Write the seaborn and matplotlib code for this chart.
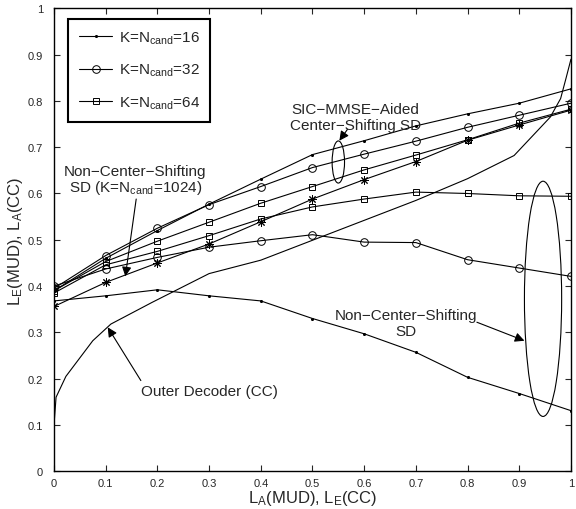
import numpy as np
import pandas as pd
import matplotlib
matplotlib.use("Agg")
import matplotlib.pyplot as plt
from matplotlib.patches import Ellipse
import seaborn as sns

# EXIT chart data
x = [0.0, 0.1, 0.2, 0.3, 0.4, 0.5, 0.6, 0.7, 0.8, 0.9, 1.0]

# SIC-MMSE-aided center-shifting SD
cs16 = [0.390, 0.460, 0.520, 0.577, 0.631, 0.684, 0.714, 0.746, 0.772, 0.795, 0.826]
cs32 = [0.395, 0.466, 0.525, 0.576, 0.615, 0.656, 0.685, 0.713, 0.743, 0.769, 0.795]
cs64 = [0.390, 0.453, 0.497, 0.538, 0.579, 0.615, 0.651, 0.683, 0.716, 0.752, 0.782]

# non-center-shifting SD
ncs1024 = [0.356, 0.408, 0.450, 0.491, 0.539, 0.588, 0.630, 0.669, 0.715, 0.748, 0.780]
ncs64 = [0.385, 0.446, 0.475, 0.509, 0.545, 0.571, 0.588, 0.603, 0.600, 0.595, 0.594]
ncs32 = [0.400, 0.437, 0.462, 0.484, 0.498, 0.511, 0.495, 0.494, 0.457, 0.439, 0.421]
ncs16 = [0.368, 0.379, 0.392, 0.379, 0.368, 0.330, 0.297, 0.257, 0.203, 0.168, 0.131]

# outer decoder (CC), inverted axes
outer_x = [0.0, 0.004, 0.023, 0.075, 0.11, 0.19, 0.3, 0.4, 0.5, 0.6, 0.7, 0.8, 0.89, 0.96, 0.98, 0.99, 1.0]
outer_y = [0.100, 0.160, 0.205, 0.282, 0.318, 0.365, 0.427, 0.456, 0.499, 0.542, 0.585, 0.632, 0.682, 0.765, 0.805, 0.847, 0.890]

legend_labels = [r"K=N$_\mathregular{cand}$=16",
                 r"K=N$_\mathregular{cand}$=32",
                 r"K=N$_\mathregular{cand}$=64"]

sns.set_style("ticks")
plt.rcParams["font.family"] = ["Liberation Sans", "DejaVu Sans"]
plt.rcParams["mathtext.fontset"] = "custom"
plt.rcParams["mathtext.rm"] = "Liberation Sans"
plt.rcParams["mathtext.it"] = "Liberation Sans"

fig = plt.figure(figsize=(5.76, 5.1), dpi=100)
ax = fig.add_axes([0.09375, 0.0739, 0.8975, 0.9079])

lw = 0.8
mk = dict(markeredgecolor="k", markeredgewidth=0.7)
dot = dict(marker=".", markersize=3, markerfacecolor="k", **mk)
circ = dict(marker="o", markersize=5.5, markerfacecolor="none", **mk)
sq = dict(marker="s", markersize=5, markerfacecolor="none", **mk)
star = dict(marker=(8, 2, 0), markersize=6, markerfacecolor="k", **mk)

sns.lineplot(x=x, y=cs16, color="k", lw=lw, ax=ax, **dot)
sns.lineplot(x=x, y=cs32, color="k", lw=lw, ax=ax, **circ)
sns.lineplot(x=x, y=cs64, color="k", lw=lw, ax=ax, **sq)
sns.lineplot(x=x, y=ncs1024, color="k", lw=lw, ax=ax, **star)
sns.lineplot(x=x, y=ncs64, color="k", lw=lw, ax=ax, **sq)
sns.lineplot(x=x, y=ncs32, color="k", lw=lw, ax=ax, **circ)
sns.lineplot(x=x, y=ncs16, color="k", lw=lw, ax=ax, **dot)
sns.lineplot(x=outer_x, y=outer_y, color="k", lw=lw, ax=ax)

lines = ax.get_lines()
leg = ax.legend(lines[:3], legend_labels, loc="upper left", bbox_to_anchor=(0.0274, 0.977),
                borderaxespad=0, fontsize=11, frameon=True, fancybox=False, edgecolor="k",
                framealpha=1, handlelength=2.2, labelspacing=1.05, borderpad=0.7,
                handletextpad=0.4)
leg.get_frame().set_linewidth(1.5)

# ellipses
ax.add_patch(Ellipse((0.55, 0.668), 0.024, 0.091, fill=False, color="k", lw=lw))
ax.add_patch(Ellipse((0.946, 0.3725), 0.072, 0.508, fill=False, color="k", lw=lw))

arrow = dict(arrowstyle="-|>", color="k", lw=lw, mutation_scale=14, shrinkA=0, shrinkB=0)
ax.annotate("", xy=(0.552, 0.714), xytext=(0.568, 0.739), arrowprops=arrow)
ax.annotate("", xy=(0.138, 0.421), xytext=(0.159, 0.588), arrowprops=arrow)
ax.annotate("", xy=(0.104, 0.311), xytext=(0.168, 0.196), arrowprops=arrow)
ax.annotate("", xy=(0.910, 0.282), xytext=(0.818, 0.322), arrowprops=arrow)

ax.text(0.583, 0.766, "SIC\u2212MMSE\u2212Aided\nCenter\u2212Shifting SD", ha="center", va="center", fontsize=11)
ax.text(0.157, 0.629, "Non\u2212Center\u2212Shifting\nSD (K=N$_\\mathregular{cand}$=1024)",
        ha="center", va="center", fontsize=11, linespacing=1.0)
ax.text(0.68, 0.32, "Non\u2212Center\u2212Shifting\nSD", ha="center", va="center", fontsize=11)
ax.text(0.301, 0.174, "Outer Decoder (CC)", ha="center", va="center", fontsize=11)

ticks = np.round(np.arange(0, 1.01, 0.1), 1)
ticklabels = ["%g" % t for t in ticks]
ax.set_xlim(0, 1)
ax.set_ylim(0, 1)
ax.set_xticks(ticks)
ax.set_xticklabels(ticklabels)
ax.set_yticks(ticks)
ax.set_yticklabels(ticklabels)
ax.tick_params(direction="in", top=True, right=True, length=4, width=0.8, labelsize=8)
ax.tick_params(axis="y", pad=8)
ax.tick_params(axis="x", pad=5)
for s in ax.spines.values():
    s.set_linewidth(1.0)
    s.set_color("k")

ax.set_xlabel("L$_\\mathregular{A}$(MUD), L$_\\mathregular{E}$(CC)", fontsize=12, labelpad=0)
ax.set_ylabel("L$_\\mathregular{E}$(MUD), L$_\\mathregular{A}$(CC)", fontsize=12, labelpad=2)

fig.savefig("out.png", dpi=100)
